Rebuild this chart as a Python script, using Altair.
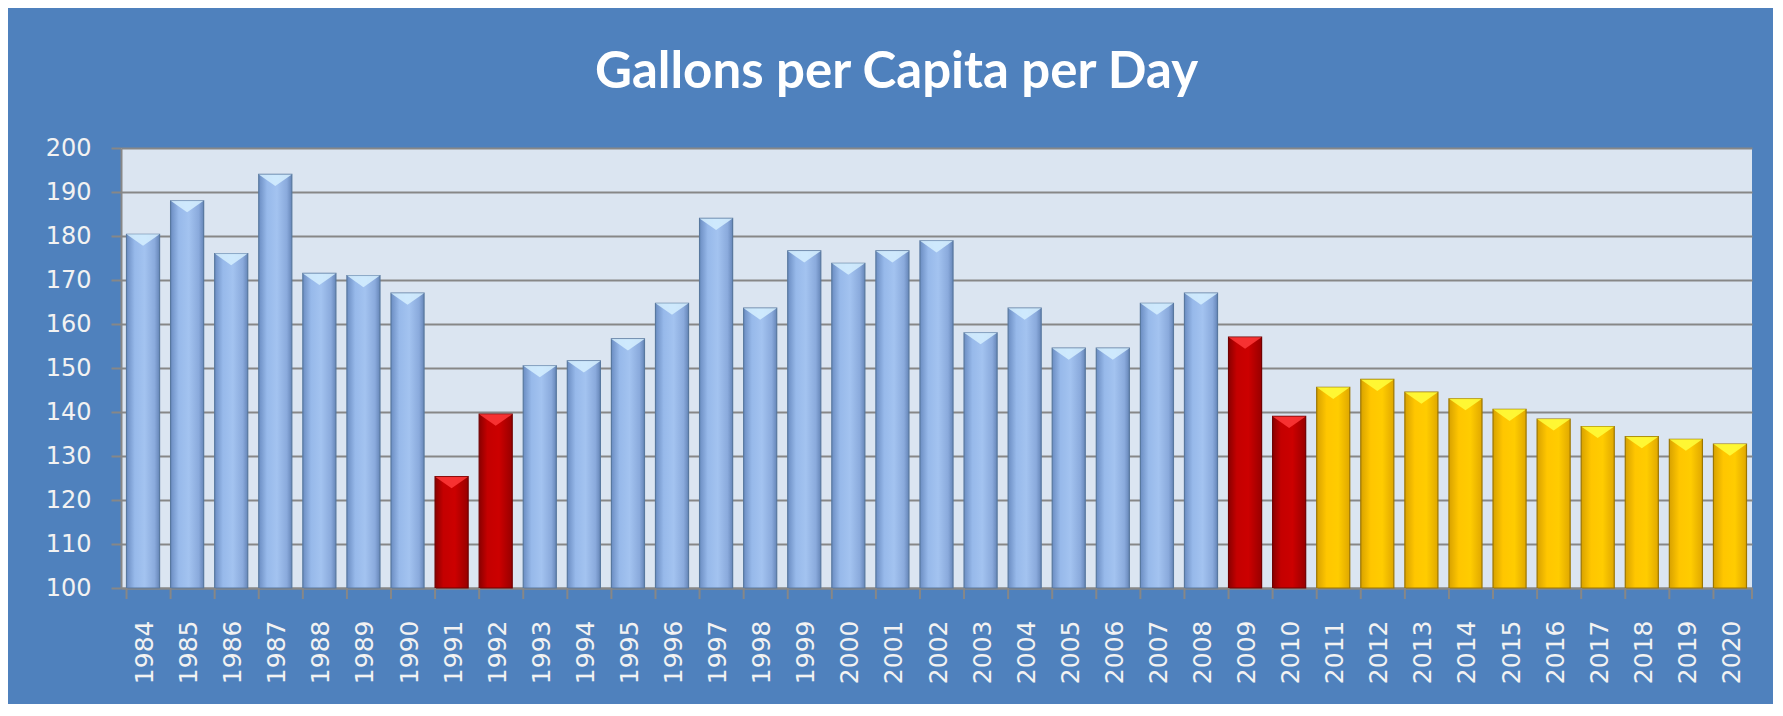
import altair as alt
import pandas as pd

years = [str(y) for y in range(1984, 2021)]
gpcd = [180.4, 188, 176, 194, 171.5, 171, 167, 125.3, 139.5, 150.5,
        151.6, 156.6, 164.7, 184, 163.6, 176.6, 173.8, 176.6, 178.9, 158,
        163.6, 154.5, 154.5, 164.7, 167, 157, 139, 145.6, 147.4, 144.5,
        143, 140.6, 138.4, 136.7, 134.4, 133.8, 132.7]
groups = (["actual"] * 7 + ["drought"] * 2 + ["actual"] * 16 + ["drought"] * 2
          + ["projected"] * 10)

df = pd.DataFrame({"year": years, "gpcd": gpcd, "group": groups})

W, H = 1631, 440
GRAY = "#878787"
LABEL = "#f2f2f2"

xenc = alt.X("year:O", sort=years,
             scale=alt.Scale(paddingInner=0.25, paddingOuter=0.125),
             axis=alt.Axis(title=None, labelAngle=270, labelFont="DejaVu Sans",
                           labelFontSize=25, labelColor=LABEL, ticks=False,
                           tickSize=0, labelPadding=32, labelOffset=2,
                           domainColor=GRAY, domainWidth=2))
yenc = alt.Y("gpcd:Q",
             scale=alt.Scale(domain=[100, 200], zero=False, nice=False),
             axis=alt.Axis(title=None, values=list(range(100, 201, 10)),
                           labelFont="DejaVu Sans", labelFontSize=24,
                           labelColor=LABEL, tickSize=10, tickColor=GRAY,
                           tickWidth=2, labelPadding=20, gridColor=GRAY,
                           gridWidth=2, gridOpacity=1, domainColor=GRAY,
                           domainWidth=2))

def grad(stops):
    return alt.Gradient(gradient="linear", x1=0, x2=1, y1=0, y2=0,
                        stops=[alt.GradientStop(offset=o, color=c) for o, c in stops])

styles = {
    "actual": (grad([(0, "#6b8dc2"), (0.25, "#97b9ea"), (0.55, "#a3c3f0"),
                     (0.85, "#8aaadc"), (1, "#6686b8")]), "#58789f"),
    "drought": (grad([(0, "#8a0000"), (0.25, "#c40000"), (0.6, "#cc0000"),
                      (1, "#980000")]), "#700000"),
    "projected": (grad([(0, "#d8a200"), (0.3, "#ffc600"), (0.65, "#ffcc00"),
                        (1, "#e0a800")]), "#9c7600"),
}

base = alt.Chart(df)
layers = []
for g, (fill, stroke) in styles.items():
    layers.append(
        base.transform_filter(alt.datum.group == g)
        .mark_bar(color=fill, stroke=stroke, strokeWidth=1.2)
        .encode(x=xenc, y=yenc, y2=alt.datum(100))
    )

bevel = base.mark_point(
    shape="M-1,-1 L1,-1 L0,-0.3 Z", size=1089, filled=True, opacity=0.85,
    yOffset=16.5,
).encode(
    x=alt.X("year:O", sort=years),
    y=alt.Y("gpcd:Q"),
    color=alt.Color("group:N",
                    scale=alt.Scale(domain=["actual", "drought", "projected"],
                                    range=["#d6f0ff", "#ff3a3a", "#ffff3c"]),
                    legend=None),
)

xticks = base.mark_rule(color=GRAY, strokeWidth=2).encode(
    x=alt.X("year:O", sort=years, bandPosition=0),
    y=alt.value(H), y2=alt.value(H + 11),
)
lasttick = alt.Chart(alt.Data(values=[{"t": 1}])).mark_rule(
    color=GRAY, strokeWidth=2
).encode(x=alt.value(W), y=alt.value(H), y2=alt.value(H + 11))

chart = alt.layer(*layers, bevel, xticks, lasttick).properties(
    width=W, height=H,
    title=alt.TitleParams("Gallons per Capita per Day", font="Lato",
                          fontSize=51, fontWeight="bold", color="white",
                          offset=37, anchor="middle", dx=-40),
    padding={"left": 113, "top": 140, "right": 21, "bottom": 116},
    autosize=alt.AutoSizeParams(type="none"),
    background="#4f81bd",
).configure_view(fill="#dbe5f1", stroke=None)

chart.save("out.html", embed_options={"renderer": "svg", "actions": False})
